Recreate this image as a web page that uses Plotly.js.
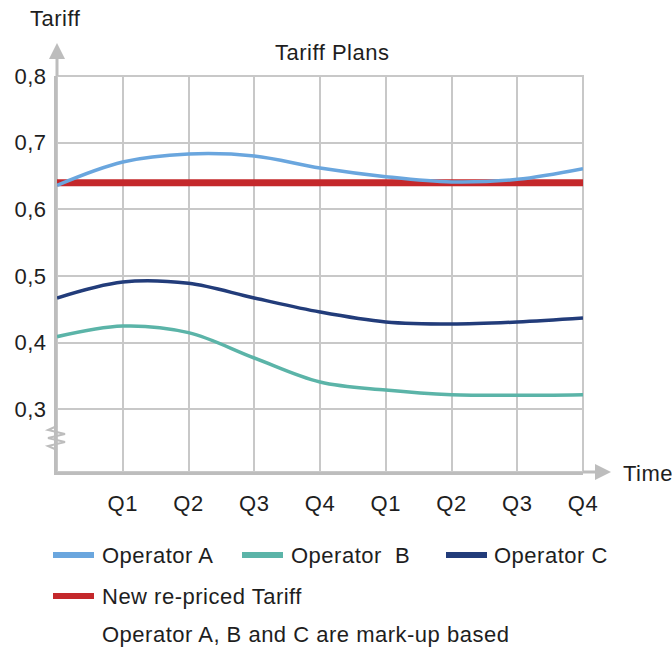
<!DOCTYPE html>
<html>
<head>
<meta charset="utf-8">
<script src="https://cdn.plot.ly/plotly-3.0.1.min.js"></script>
<style>
  html, body { margin: 0; padding: 0; background: #fff; }
  #chart { width: 672px; height: 647px; }
  #chart svg text { letter-spacing: 0.5px; }
</style>
</head>
<body>
<div id="chart"></div>
<script>
// Quarter positions along the time axis and their labels
const quarters = [0, 1, 2, 3, 4, 5, 6, 7, 8];
const quarterTicks = [1, 2, 3, 4, 5, 6, 7, 8];
const quarterLabels = ['Q1', 'Q2', 'Q3', 'Q4', 'Q1', 'Q2', 'Q3', 'Q4'];
const tariffTicks = [0.3, 0.4, 0.5, 0.6, 0.7, 0.8];

// Tariff per quarter for each plan
const operatorA = [0.636, 0.671, 0.683, 0.680, 0.662, 0.649, 0.641, 0.645, 0.661];
const operatorB = [0.409, 0.425, 0.415, 0.377, 0.341, 0.329, 0.322, 0.321, 0.322];
const operatorC = [0.467, 0.491, 0.489, 0.467, 0.446, 0.431, 0.428, 0.431, 0.437];
const newTariff = [0.64, 0.64, 0.64, 0.64, 0.64, 0.64, 0.64, 0.64, 0.64];

const seriesNames = ['Operator A', 'Operator  B', 'Operator C', 'New re-priced Tariff'];
const seriesColors = ['#6aa6de', '#5bb4a8', '#223c7a', '#c4282b'];
const footNote = 'Operator A, B and C are mark-up based';

const W = 672, H = 647;
const M = { l: 57, r: 89, t: 76, b: 175 };
const PW = W - M.l - M.r, PH = H - M.t - M.b;
// pixel position -> paper fraction, for decorations around the plot
const px = v => (v - M.l) / PW;
const py = v => (H - M.b - v) / PH;

const FONT = '"Liberation Sans", Arial, sans-serif';
const FS = 22;
const TXT = '#1e1e1e';
const AXIS = '#bdbdbd';
const GRID = '#c8c8c8';

function lineTrace(y, idx, width) {
  return {
    x: quarters, y: y, type: 'scatter', mode: 'lines',
    name: seriesNames[idx], showlegend: false, hoverinfo: 'skip',
    line: { color: seriesColors[idx], width: width, shape: 'spline', smoothing: 1 }
  };
}

const traces = [
  lineTrace(newTariff, 3, 7),
  lineTrace(operatorB, 1, 3.5),
  lineTrace(operatorC, 2, 3.5),
  lineTrace(operatorA, 0, 3.5)
];

const shapes = [];
const annotations = [];

function label(text, x, y, anchor) {
  annotations.push({ xref: 'paper', yref: 'paper', x: px(x), y: py(y),
    xanchor: anchor, yanchor: 'middle', align: anchor === 'left' ? 'left' : 'center',
    text: text, showarrow: false, font: { family: FONT, size: FS, color: TXT } });
}

// plot frame on top and right
shapes.push({ type: 'rect', xref: 'paper', yref: 'paper', x0: 0, x1: 1, y0: 0, y1: 1,
  line: { color: GRID, width: 2 }, layer: 'below' });

// y axis arrow
shapes.push({ type: 'line', xref: 'paper', yref: 'paper', x0: 0, x1: 0, y0: 1, y1: py(58),
  line: { color: AXIS, width: 3 } });
shapes.push({ type: 'path', xref: 'paper', yref: 'paper',
  path: `M ${px(57)} ${py(43)} L ${px(49)} ${py(59)} L ${px(65)} ${py(59)} Z`,
  fillcolor: AXIS, line: { width: 0 } });
// x axis arrow
shapes.push({ type: 'line', xref: 'paper', yref: 'paper', x0: 1, x1: px(596), y0: 0, y1: 0,
  line: { color: AXIS, width: 3 } });
shapes.push({ type: 'path', xref: 'paper', yref: 'paper',
  path: `M ${px(611)} ${py(472)} L ${px(595)} ${py(464)} L ${px(595)} ${py(480)} Z`,
  fillcolor: AXIS, line: { width: 0 } });
// axis break mark
shapes.push({ type: 'path', xref: 'paper', yref: 'paper',
  path: `M ${px(57)} ${py(426)} L ${px(48)} ${py(430)} L ${px(65)} ${py(434)} L ${px(48)} ${py(438)} L ${px(65)} ${py(442)} L ${px(48)} ${py(446)} L ${px(57)} ${py(450)}`,
  line: { color: AXIS, width: 2 } });

// titles
label('Tariff', 28, 18, 'left');
label('Tariff Plans', 332, 52, 'center');
label('Time', 621, 473, 'left');

// legend entries
const legendSlots = [
  { sx: 53, tx: 100, y: 555 },
  { sx: 242, tx: 289, y: 555 },
  { sx: 446, tx: 492, y: 555 },
  { sx: 53, tx: 100, y: 596 }
];
legendSlots.forEach((s, i) => {
  shapes.push({ type: 'line', xref: 'paper', yref: 'paper', x0: px(s.sx), x1: px(s.sx + 41), y0: py(s.y), y1: py(s.y),
    line: { color: seriesColors[i], width: 6 } });
  label(seriesNames[i].replace(/  /g, ' \u00a0'), s.tx, s.y, 'left');
});
label(footNote, 100, 634, 'left');

const layout = {
  width: W, height: H,
  margin: M,
  paper_bgcolor: '#fff', plot_bgcolor: '#fff',
  separators: ',.',
  showlegend: false,
  font: { family: FONT, size: FS, color: TXT },
  xaxis: {
    range: [0, 8], tickvals: quarterTicks, ticktext: quarterLabels,
    showgrid: true, gridcolor: GRID, gridwidth: 2,
    showline: true, linecolor: AXIS, linewidth: 3,
    zeroline: false, ticks: '', ticklabelstandoff: 10,
    tickfont: { family: FONT, size: FS, color: TXT }, fixedrange: true
  },
  yaxis: {
    range: [0.206, 0.8], tickvals: tariffTicks, tickformat: '.1f',
    showgrid: true, gridcolor: GRID, gridwidth: 2,
    showline: true, linecolor: AXIS, linewidth: 3,
    zeroline: false, ticks: '', ticklabelstandoff: 3,
    tickfont: { family: FONT, size: FS, color: TXT }, fixedrange: true
  },
  shapes: shapes,
  annotations: annotations
};

Plotly.newPlot('chart', traces, layout, { displayModeBar: false, staticPlot: true });
</script>
</body>
</html>
